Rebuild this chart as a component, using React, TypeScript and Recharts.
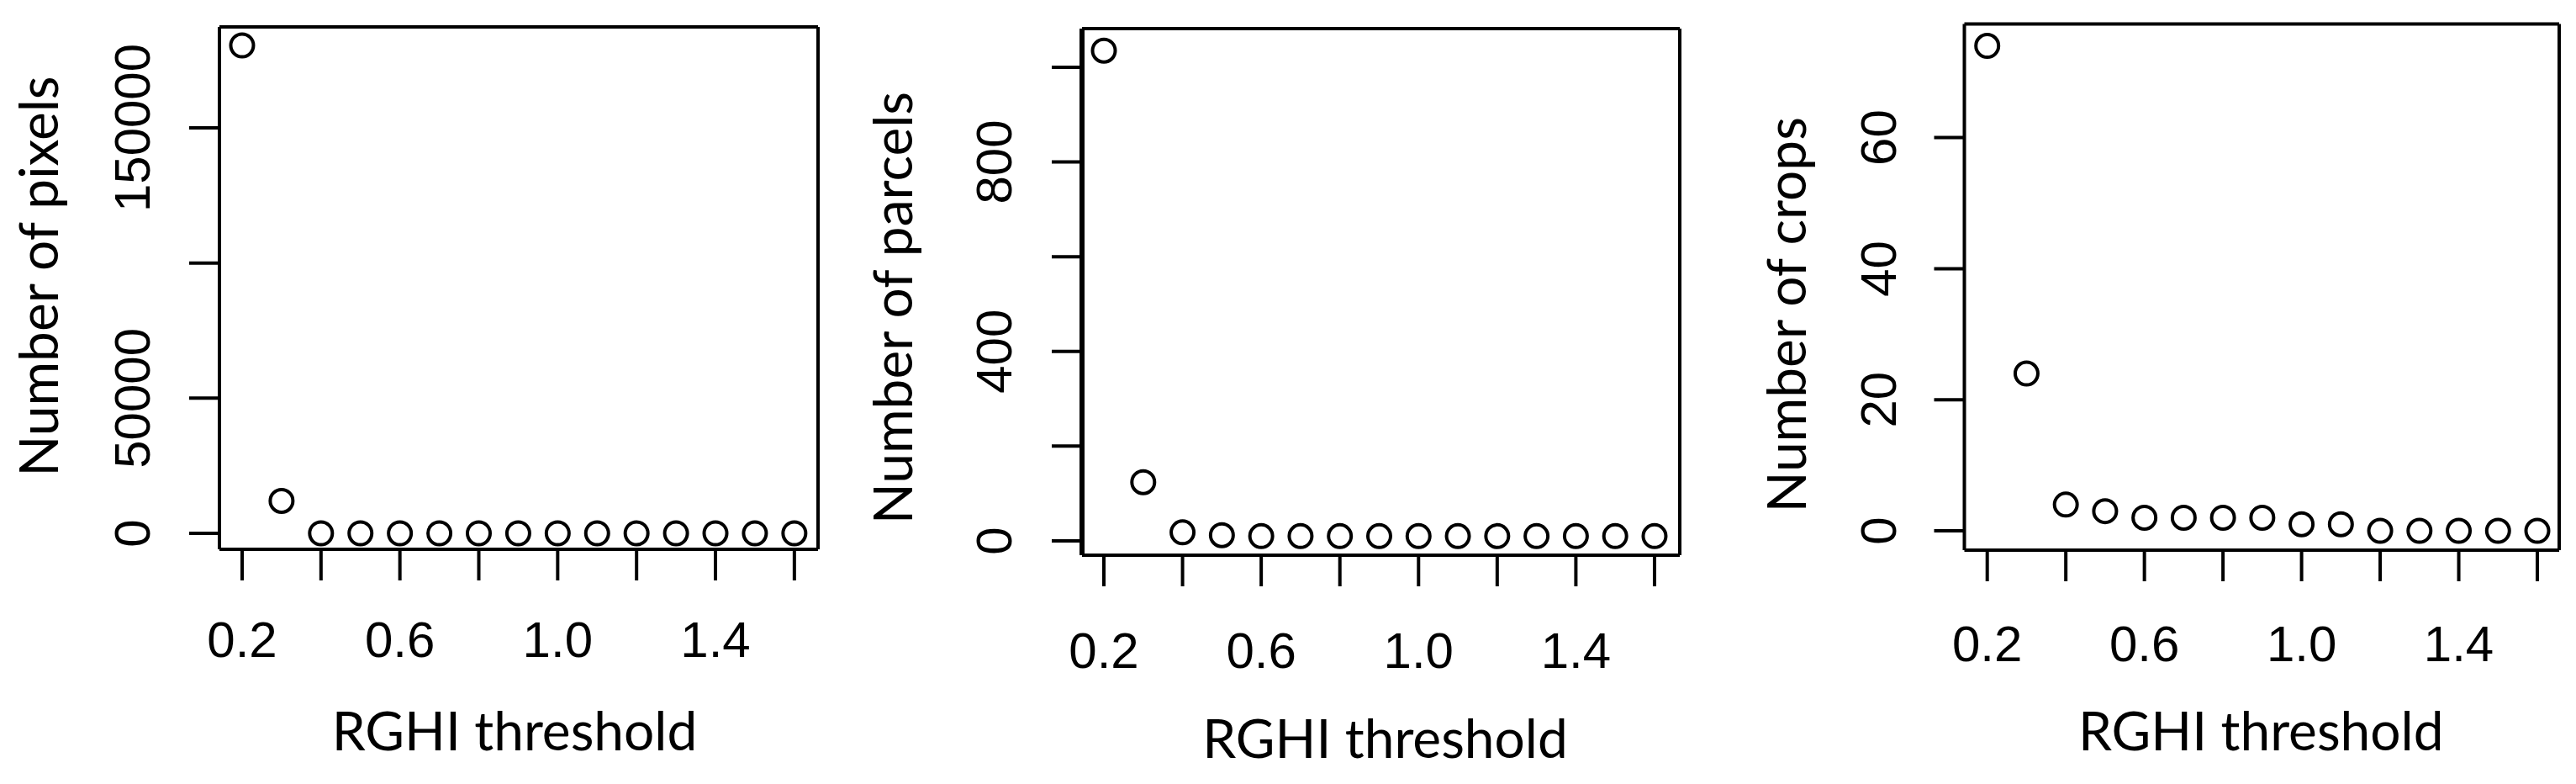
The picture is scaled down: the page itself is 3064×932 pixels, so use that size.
import React from "react";
import { ScatterChart, Scatter, XAxis, YAxis, ReferenceLine } from "recharts";

// ---- data ----
const thresholds = [0.2, 0.3, 0.4, 0.5, 0.6, 0.7, 0.8, 0.9, 1.0, 1.1, 1.2, 1.3, 1.4, 1.5, 1.6];
const pixels = [180500, 12000, 0, 0, 0, 0, 0, 0, 0, 0, 0, 0, 0, 0, 0];
const parcels = [1035, 124, 18, 12, 10, 10, 10, 10, 10, 10, 10, 10, 10, 10, 10];
const crops = [74, 24, 4, 3, 2, 2, 2, 2, 1, 1, 0, 0, 0, 0, 0];

const xTicks = [0.2, 0.4, 0.6, 0.8, 1.0, 1.2, 1.4, 1.6];
const xTickLabels = ["0.2", "0.6", "1.0", "1.4"];

const pixelTicks = [0, 50000, 100000, 150000];
const pixelTickLabels = ["0", "50000", "150000"];
const parcelTicks = [0, 200, 400, 600, 800, 1000];
const parcelTickLabels = ["0", "400", "800"];
const cropTicks = [0, 20, 40, 60];
const cropTickLabels = ["0", "20", "40", "60"];

const xTitle = "RGHI threshold";
const yTitles = ["Number of pixels", "Number of parcels", "Number of crops"];

const toRows = (vals: number[]) => thresholds.map((x, i) => ({ x, y: vals[i] }));

// ---- styles ----
const TICK_FONT = "'Liberation Sans', Arial, sans-serif";
const TITLE_FONT = "Lato, 'Open Sans', sans-serif";
const AXW = 200; // axis reserved size

const panels = [
  {
    rows: toRows(pixels),
    yTitle: yTitles[0],
    yTicks: pixelTicks,
    yLabels: pixelTickLabels,
    left: 0,
    width: 1010,
    plot: { top: 32, left: 261, right: 37, bottom: 279 },
    xDomain: [0.1425, 1.66],
    yDomain: [-5913, 187345],
    yAxisStroke: 4,
    xTickMargin: 48,
    yTickMargin: 47,
    xTitleDx: -5,
    xTitleDy: 239,
    yTitleDx: -192,
    yTitleDy: -14,
  },
  {
    rows: toRows(parcels),
    yTitle: yTitles[1],
    yTicks: parcelTicks,
    yLabels: parcelTickLabels,
    left: 1010,
    width: 1020,
    plot: { top: 34, left: 277, right: 32, bottom: 272 },
    xDomain: [0.1444, 1.6642],
    yDomain: [-30.2, 1081.5],
    yAxisStroke: 6,
    xTickMargin: 54,
    yTickMargin: 48,
    xTitleDx: 5,
    xTitleDy: 241,
    yTitleDx: -202,
    yTitleDy: 19,
  },
  {
    rows: toRows(crops),
    yTitle: yTitles[2],
    yTicks: cropTicks,
    yLabels: cropTickLabels,
    left: 2050,
    width: 1014,
    plot: { top: 28.5, left: 286.5, right: 20, bottom: 278 },
    xDomain: [0.1418, 1.6556],
    yDomain: [-2.95, 77.34],
    yAxisStroke: 4,
    xTickMargin: 52,
    yTickMargin: 45,
    xTitleDx: -1,
    xTitleDy: 238,
    yTitleDx: -189,
    yTitleDy: 33,
  },
];

const Ring = (props: any) => {
  if (props.cx == null || props.cy == null) return <g />;
  return <circle cx={props.cx} cy={props.cy} r={13.5} fill="none" stroke="#000" strokeWidth={4} />;
};

const makeXTick = (labels: string[]) => (props: any) => {
  const { x, y, payload } = props;
  const s = Number(payload.value).toFixed(1);
  if (!labels.includes(s)) return <g />;
  return (
    <text x={x} y={y} dy="0.71em" textAnchor="middle" fontFamily={TICK_FONT} fontSize={60} fill="#000">
      {s}
    </text>
  );
};

const makeYTick = (labels: string[]) => (props: any) => {
  const { x, y, payload } = props;
  const s = String(payload.value);
  if (!labels.includes(s)) return <g />;
  return (
    <text
      x={x}
      y={y}
      transform={`rotate(-90 ${x} ${y})`}
      textAnchor="middle"
      fontFamily={TICK_FONT}
      fontSize={60}
      fill="#000"
    >
      {s}
    </text>
  );
};

function XTitle(props: any) {
  const vb = props.viewBox || { x: 0, y: 0, width: 0 };
  const cx = vb.x + vb.width / 2 + props.dxOff;
  const by = vb.y + props.dyOff;
  return (
    <text x={cx} y={by} textAnchor="middle" fontFamily={TITLE_FONT} fontSize={64} fill="#000">
      {props.text}
    </text>
  );
}

function YTitle(props: any) {
  const vb = props.viewBox || { x: 0, y: 0, width: 0, height: 0 };
  const bx = vb.x + vb.width + props.dxOff;
  const cy = vb.y + vb.height / 2 + props.dyOff;
  return (
    <text
      x={bx}
      y={cy}
      transform={`rotate(-90 ${bx} ${cy})`}
      textAnchor="middle"
      fontFamily={TITLE_FONT}
      fontSize={64}
      fill="#000"
    >
      {props.text}
    </text>
  );
}

function Panel({ p }: { p: (typeof panels)[number] }) {
  const margin = {
    top: p.plot.top,
    right: p.plot.right,
    left: p.plot.left - AXW,
    bottom: p.plot.bottom - AXW,
  };
  const line = { stroke: "#000", strokeWidth: 4 };
  return (
    <div style={{ position: "absolute", left: p.left, top: 0, width: p.width, height: 932 }}>
      <ScatterChart width={p.width} height={932} margin={margin}>
        <XAxis
          type="number"
          dataKey="x"
          domain={p.xDomain}
          allowDataOverflow
          ticks={xTicks}
          interval={0}
          height={AXW}
          stroke="#000"
          axisLine={line}
          tickLine={line}
          tickSize={37}
          tickMargin={p.xTickMargin}
          tick={makeXTick(xTickLabels)}
          label={<XTitle text={xTitle} dxOff={p.xTitleDx} dyOff={p.xTitleDy} />}
        />
        <YAxis
          type="number"
          dataKey="y"
          domain={p.yDomain}
          allowDataOverflow
          ticks={p.yTicks}
          interval={0}
          width={AXW}
          stroke="#000"
          axisLine={{ stroke: "#000", strokeWidth: p.yAxisStroke }}
          tickLine={line}
          tickSize={36}
          tickMargin={p.yTickMargin}
          tick={makeYTick(p.yLabels)}
          label={<YTitle text={p.yTitle} dxOff={p.yTitleDx} dyOff={p.yTitleDy} />}
        />
        <ReferenceLine y={p.yDomain[1]} stroke="#000" strokeWidth={4} />
        <ReferenceLine x={p.xDomain[1]} stroke="#000" strokeWidth={4} />
        <Scatter data={p.rows} dataKey="y" shape={Ring} isAnimationActive={false} />
      </ScatterChart>
    </div>
  );
}

export default function App() {
  return (
    <div
      style={{
        position: "absolute",
        left: 0,
        top: 0,
        width: 3064,
        height: 932,
        background: "#fff",
        overflow: "hidden",
      }}
    >
      {panels.map((p, i) => (
        <Panel key={i} p={p} />
      ))}
    </div>
  );
}
